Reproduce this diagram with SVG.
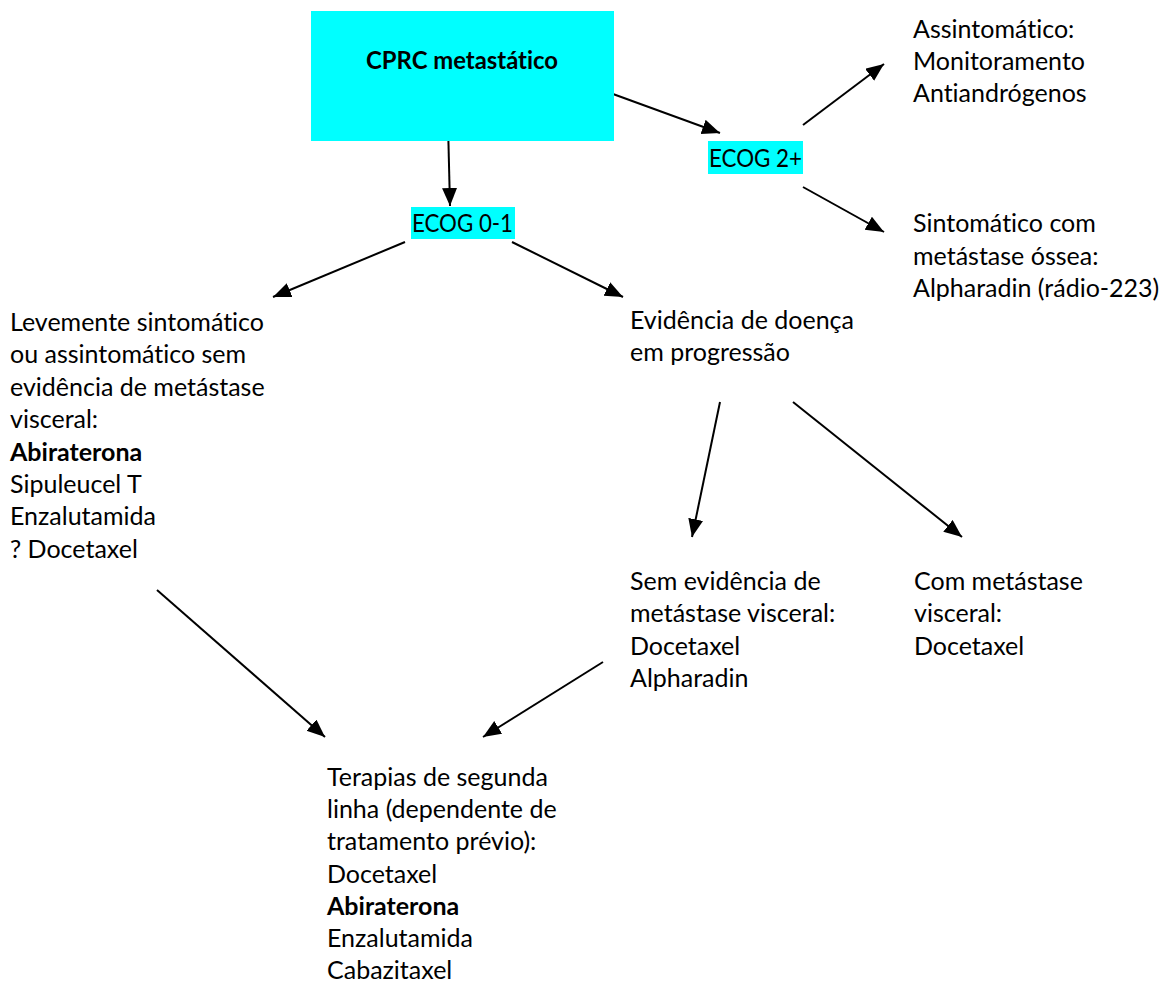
<svg xmlns="http://www.w3.org/2000/svg" width="1166" height="982" viewBox="0 0 1166 982">
<style>
text{font-family:Lato,"Open Sans","Liberation Sans",sans-serif;font-size:25px;fill:#000;font-variant-ligatures:none}
.b{font-weight:bold}
.hl{fill:#00FFFF}
.c{stroke:#000;stroke-width:2;fill:none;marker-end:url(#ah)}
</style>
<defs>
<marker id="ah" markerUnits="userSpaceOnUse" markerWidth="20" markerHeight="16" refX="18" refY="7.5" orient="auto">
<path d="M0,0 L18,7.5 L0,15 z" fill="#000"/>
</marker>
</defs>
<rect width="1166" height="982" fill="#fff"/>
<g id="connectors">
<line class="c" x1="448" y1="124" x2="450" y2="206"/>
<line class="c" x1="602" y1="90" x2="720" y2="133"/>
<line class="c" x1="803" y1="125" x2="884" y2="64"/>
<line class="c" x1="803" y1="187" x2="884" y2="232"/>
<line class="c" x1="405" y1="242" x2="273" y2="297"/>
<line class="c" x1="512" y1="242" x2="623" y2="297"/>
<line class="c" x1="720" y1="402" x2="692" y2="537"/>
<line class="c" x1="793" y1="402" x2="962" y2="537"/>
<line class="c" x1="157" y1="590" x2="325" y2="737"/>
<line class="c" x1="603" y1="662" x2="483" y2="737"/>
</g>
<g id="cprc">
<rect class="hl" x="311" y="11" width="303" height="130"/>
<text class="b" x="366" y="69" textLength="192" lengthAdjust="spacingAndGlyphs">CPRC metastático</text>
</g>
<g id="ecog01">
<rect class="hl" x="411" y="207" width="104" height="32"/>
<text x="412" y="232" textLength="101" lengthAdjust="spacingAndGlyphs">ECOG 0-1</text>
</g>
<g id="ecog2">
<rect class="hl" x="708" y="141" width="95" height="33"/>
<text x="709" y="167" textLength="93" lengthAdjust="spacingAndGlyphs">ECOG 2+</text>
</g>
<g id="assintomatico">
<text x="913" y="37.5">Assintomático:</text>
<text x="913" y="70">Monitoramento</text>
<text x="913" y="102.4">Antiandrógenos</text>
</g>
<g id="sintomatico">
<text x="913" y="232">Sintomático com</text>
<text x="913" y="264.5">metástase óssea:</text>
<text x="913" y="297">Alpharadin (rádio-223)</text>
</g>
<g id="levemente">
<text x="10" y="331">Levemente sintomático</text>
<text x="10" y="363.4">ou assintomático sem</text>
<text x="10" y="395.8">evidência de metástase</text>
<text x="10" y="428.2">visceral:</text>
<text class="b" x="10" y="460.6">Abiraterona</text>
<text x="10" y="493">Sipuleucel T</text>
<text x="10" y="525.4">Enzalutamida</text>
<text x="10" y="557.8">? Docetaxel</text>
</g>
<g id="progressao">
<text x="630" y="329">Evidência de doença</text>
<text x="630" y="361.4">em progressão</text>
</g>
<g id="sem-visceral">
<text x="630" y="590">Sem evidência de</text>
<text x="630" y="622.4">metástase visceral:</text>
<text x="630" y="654.8">Docetaxel</text>
<text x="630" y="687.2">Alpharadin</text>
</g>
<g id="com-visceral">
<text x="914" y="590">Com metástase</text>
<text x="914" y="622.4">visceral:</text>
<text x="914" y="654.8">Docetaxel</text>
</g>
<g id="segunda-linha">
<text x="327" y="786">Terapias de segunda</text>
<text x="327" y="818.2">linha (dependente de</text>
<text x="327" y="850.4">tratamento prévio):</text>
<text x="327" y="882.6">Docetaxel</text>
<text class="b" x="327" y="914.8">Abiraterona</text>
<text x="327" y="947">Enzalutamida</text>
<text x="327" y="979">Cabazitaxel</text>
</g>
</svg>
